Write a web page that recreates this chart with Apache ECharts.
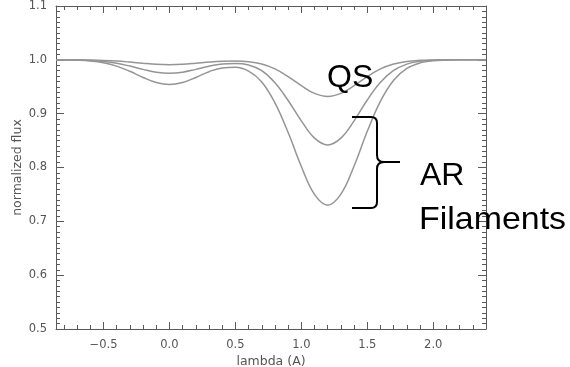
<!DOCTYPE html>
<html>
<head>
<meta charset="utf-8">
<title>normalized flux vs lambda</title>
<script src="https://cdn.jsdelivr.net/npm/echarts@6/dist/echarts.min.js"></script>
<style>
  html, body { margin: 0; padding: 0; background: #fff; }
  #chart { width: 570px; height: 367px; }
</style>
</head>
<body>
<div id="chart"></div>
<script>
// Wavelength offsets (A) where the profiles are sampled
const lambda = [-0.86, -0.8, -0.7, -0.6, -0.5, -0.4, -0.3, -0.2, -0.1, 0.0,
  0.1, 0.2, 0.3, 0.4, 0.5, 0.6, 0.7, 0.8, 0.9, 1.0,
  1.1, 1.2, 1.3, 1.4, 1.5, 1.6, 1.7, 1.8, 1.9, 2.0,
  2.1, 2.2, 2.3, 2.4];

// Quiet-sun profile
const fluxQS = [1.000, 1.000, 1.000, 0.9996, 0.9989, 0.9977, 0.9958, 0.9936, 0.9917, 0.991,
  0.9917, 0.9936, 0.9958, 0.9974, 0.9979, 0.9966, 0.9921, 0.9831, 0.9689, 0.952,
  0.9376, 0.932, 0.9376, 0.952, 0.9689, 0.9831, 0.9922, 0.997, 0.999, 0.9997,
  1.000, 1.000, 1.000, 1.000];

// Active-region filament profiles
const fluxAR1 = [1.000, 0.9999, 0.9996, 0.9989, 0.997, 0.9936, 0.9884, 0.9823, 0.977, 0.975,
  0.977, 0.9823, 0.9882, 0.9922, 0.9932, 0.9905, 0.9798, 0.9575, 0.9245, 0.8867,
  0.8546, 0.842, 0.8546, 0.8867, 0.9254, 0.9583, 0.9802, 0.9921, 0.9973, 0.9992,
  0.9998, 1.000, 1.000, 1.000];

const fluxAR2 = [1.000, 0.9998, 0.9993, 0.9979, 0.9946, 0.9883, 0.9787, 0.9673, 0.9578, 0.954,
  0.9578, 0.9673, 0.978, 0.985, 0.986, 0.979, 0.959, 0.92, 0.865, 0.802,
  0.75, 0.73, 0.7505, 0.8029, 0.8672, 0.9233, 0.9622, 0.984, 0.9943, 0.9982,
  0.9995, 1.000, 1.000, 1.000];

const xRange = [-0.86, 2.4];
const yRange = [0.5, 1.1];

const frameColor = '#5a5a5a';
const curveColor = '#959595';
const labelFont = 'DejaVu Sans';

function pairs(ys) { return lambda.map((x, i) => [x, ys[i]]); }
function fmtX(v) { return v.toFixed(1).replace('-', '\u2212'); }

// Boxed frame: bottom/top each use a fine-tick axis and a labelled coarse-tick axis
function xAxisSet(position, withLabels) {
  const common = {
    type: 'value', min: xRange[0], max: xRange[1], position: position,
    splitLine: { show: false }
  };
  return [
    Object.assign({}, common, {
      splitNumber: 33,
      axisLine: { show: true, onZero: false, lineStyle: { color: frameColor, width: 1 } },
      axisTick: { show: true, inside: true, length: 4, lineStyle: { color: frameColor } },
      axisLabel: { show: false }
    }),
    Object.assign({}, common, {
      splitNumber: 6,
      axisLine: { show: false, onZero: false },
      axisTick: { show: true, inside: true, length: 7, lineStyle: { color: frameColor } },
      axisLabel: withLabels ? {
        show: true, showMinLabel: false, showMaxLabel: false, margin: 10,
        color: '#555', fontFamily: labelFont, fontSize: 11.5, formatter: fmtX
      } : { show: false },
      name: withLabels ? 'lambda (A)' : '',
      nameLocation: 'middle', nameGap: 26, nameMoveOverlap: false,
      nameTextStyle: { color: '#555', fontFamily: labelFont, fontSize: 12.5 }
    })
  ];
}

function yAxisDef(position, withLabels) {
  return {
    type: 'value', min: yRange[0], max: yRange[1], interval: 0.1, position: position,
    splitLine: { show: false },
    axisLine: { show: true, onZero: false, lineStyle: { color: frameColor, width: 1 } },
    axisTick: { show: true, inside: true, length: 8, lineStyle: { color: frameColor } },
    minorTick: { show: true, splitNumber: 10, length: 4, lineStyle: { color: frameColor } },
    axisLabel: withLabels ? {
      show: true, margin: 9, color: '#555', fontFamily: labelFont, fontSize: 11.5,
      formatter: v => v.toFixed(1)
    } : { show: false },
    name: withLabels ? 'normalized flux' : '',
    nameLocation: 'middle', nameGap: 32, nameMoveOverlap: false,
    nameTextStyle: { color: '#555', fontFamily: labelFont, fontSize: 12.5 }
  };
}

function profile(name, ys) {
  return {
    name: name, type: 'line', data: pairs(ys), smooth: 0.4, symbol: 'none',
    xAxisIndex: 0, yAxisIndex: 0,
    lineStyle: { color: curveColor, width: 1.5 }
  };
}

const annotationFont = 'Liberation Sans';
const braceStyle = { stroke: '#000', lineWidth: 2, fill: null };

function seg(x1, y1, x2, y2) {
  return { type: 'line', z: 10, shape: { x1, y1, x2, y2 }, style: braceStyle };
}
function bend(x1, y1, cpx1, cpy1, x2, y2) {
  return { type: 'bezierCurve', z: 10, shape: { x1, y1, cpx1, cpy1, x2, y2 }, style: braceStyle };
}

// Curly brace grouping the two active-region profiles
const brace = [
  seg(352, 117, 371, 117),
  bend(371, 117, 377, 117, 377, 123),
  seg(377, 123, 377, 155),
  bend(377, 155, 377, 162, 384, 162),
  seg(384, 162, 400, 162),
  bend(384, 162, 377, 162, 377, 169),
  seg(377, 169, 377, 202),
  bend(377, 202, 377, 208, 371, 208),
  seg(371, 208, 352, 208)
];

const chart = echarts.init(document.getElementById('chart'), null, { renderer: 'canvas' });
chart.setOption({
  animation: false,
  backgroundColor: '#fff',
  grid: { left: 56, right: 84, top: 6, bottom: 38, containLabel: false, outerBoundsMode: 'none' },
  xAxis: xAxisSet('bottom', true).concat(xAxisSet('top', false)),
  yAxis: [yAxisDef('left', true), yAxisDef('right', false)],
  series: [
    profile('QS', fluxQS),
    profile('AR filament 1', fluxAR1),
    profile('AR filament 2', fluxAR2)
  ],
  graphic: [
    { type: 'text', x: 327, y: 78, z: 10,
      style: { text: 'QS', fill: '#000', fontFamily: annotationFont, fontSize: 32, align: 'left', verticalAlign: 'middle' } },
    { type: 'text', x: 420, y: 176, z: 10,
      style: { text: 'AR', fill: '#000', fontFamily: annotationFont, fontSize: 32, align: 'left', verticalAlign: 'middle' } },
    { type: 'text', x: 419, y: 220, z: 10, scaleX: 1.06,
      style: { text: 'Filaments', fill: '#000', fontFamily: annotationFont, fontSize: 32, align: 'left', verticalAlign: 'middle' } }
  ].concat(brace)
});
</script>
</body>
</html>
